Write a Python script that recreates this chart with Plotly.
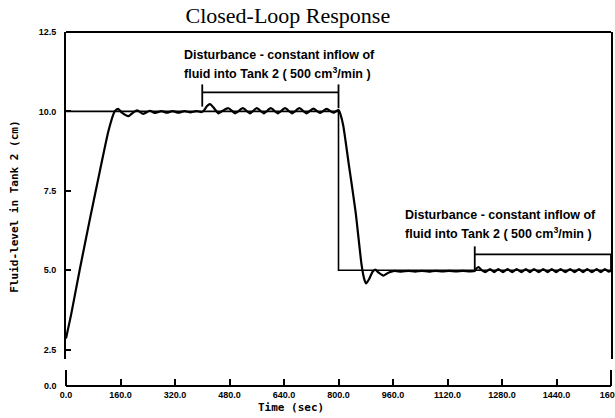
import plotly.graph_objects as go

# time axis ticks (sec)
x_ticks = [0, 160, 320, 480, 640, 800, 960, 1120, 1280, 1440, 1600]
x_tick_labels = ["0.0", "160.0", "320.0", "480.0", "640.0", "800.0",
                 "960.0", "1120.0", "1280.0", "1440.0", "1600."]
y_ticks = [2.5, 5.0, 7.5, 10.0, 12.5]
y_tick_labels = ["2.5", "5.0", "7.5", "10.0", "12.5"]

# setpoint (cm)
setpoint_t = [0, 800, 800, 1600]
setpoint_lvl = [10.0, 10.0, 5.0, 5.0]

resp_t = [0, 15, 40, 70, 100, 125, 143, 153, 165, 183, 198, 209, 227, 246, 262,
          280, 296, 313, 330, 348, 365, 382, 398,
          405, 414, 423, 433, 448, 460, 477, 497, 519, 540, 560, 581, 601, 622,
          643, 664, 685, 706, 726, 746, 765, 785, 800,
          806, 814, 830, 850, 868, 876, 881, 890, 900, 908, 918, 932, 948, 965,
          985, 1005, 1025, 1045, 1065, 1085, 1105, 1125, 1145, 1165, 1185, 1200,
          1205, 1211, 1220, 1231, 1245, 1257, 1269, 1283, 1296, 1310, 1323, 1337,
          1350, 1362, 1374, 1388, 1401, 1414, 1426, 1439, 1452, 1466, 1480, 1493,
          1506, 1518, 1530, 1544, 1558, 1570, 1582, 1594, 1600]
resp_lvl = [2.85, 3.6, 5.0, 6.6, 8.15, 9.4, 10.0, 10.08, 9.95, 9.85, 9.97, 10.03,
            9.92, 10.02, 9.95, 10.01, 9.96, 10.01, 9.96, 10.01, 9.97, 10.01, 9.98,
            10.03, 10.17, 10.23, 10.12, 9.94, 10.02, 10.1, 9.94, 10.1, 9.94, 10.1,
            9.94, 10.1, 9.94, 10.1, 9.94, 10.1, 9.94, 10.09, 9.95, 10.08, 9.96, 10.04,
            9.9, 9.55, 8.35, 6.85, 5.15, 4.7, 4.58, 4.72, 4.95, 5.02, 4.92, 4.83,
            4.93, 4.98, 4.95, 4.98, 4.95, 4.98, 4.95, 4.98, 4.96, 4.98, 4.96, 4.98,
            4.96, 4.97,
            5.05, 5.1, 5.0, 4.94, 5.03, 4.94, 5.03, 4.94, 5.03, 4.94, 5.03, 4.94,
            5.03, 4.94, 5.03, 4.94, 5.03, 4.94, 5.03, 4.94, 5.03, 4.94, 5.03, 4.94,
            5.03, 4.94, 5.03, 4.94, 5.03, 4.94, 5.03, 4.95, 4.98]

# disturbance brackets
bracket1_t = [400, 400, None, 400, 800, None, 800, 800]
bracket1_lvl = [10.85, 10.15, None, 10.6, 10.6, None, 10.85, 10.1]
bracket2_t = [1200, 1200, None, 1200, 1600, 1600]
bracket2_lvl = [5.75, 4.98, None, 5.5, 5.5, 5.0]

note_lines = ["Disturbance - constant inflow of",
              "fluid into Tank 2 ( 500 cm<sup>3</sup>/min )"]
note1_t, note1_lvl = 340, [11.79, 11.22]
note2_t, note2_lvl = 989, [6.75, 6.17]

fig = go.Figure()
fig.add_trace(go.Scatter(x=setpoint_t, y=setpoint_lvl, mode="lines",
                         line=dict(color="black", width=1.6)))
fig.add_trace(go.Scatter(x=resp_t, y=resp_lvl, mode="lines",
                         line=dict(color="black", width=2.2, shape="spline", smoothing=0.6)))
for bt, bl in [(bracket1_t, bracket1_lvl), (bracket2_t, bracket2_lvl)]:
    fig.add_trace(go.Scatter(x=bt, y=bl, mode="lines", connectgaps=False,
                             line=dict(color="black", width=1.8)))

note_font = dict(family="Liberation Sans, Arial", size=12.5, color="black", weight="bold")
for nt, nl in [(note1_t, note1_lvl), (note2_t, note2_lvl)]:
    for txt, lvl in zip(note_lines, nl):
        fig.add_annotation(x=nt, y=lvl, text=txt, showarrow=False,
                           xanchor="left", yanchor="middle", font=note_font)

label_font = dict(family="DejaVu Sans Mono", size=11, color="black", weight="bold")
fig.add_annotation(xref="paper", yref="paper", x=0.413, y=-0.062, text="Time (sec)",
                   showarrow=False, xanchor="center", yanchor="middle", font=label_font)
fig.add_annotation(xref="paper", yref="paper", x=-0.094, y=0.506,
                   text="Fluid-level in Tank 2 (cm)", textangle=-90,
                   showarrow=False, xanchor="center", yanchor="middle", font=label_font)

tick_font = dict(family="Liberation Sans Narrow, Liberation Sans", size=9,
                 color="black", weight="bold")

# frame: top border plus the short stubs below the axis break, and the 0.0 label
frame = dict(color="black", width=2)
fig.add_shape(type="line", xref="paper", yref="paper", x0=0, x1=1, y0=1, y1=1, line=frame)
fig.add_shape(type="line", xref="paper", yref="paper", x0=0, x1=0, y0=0, y1=0.045, line=frame)
fig.add_shape(type="line", xref="paper", yref="paper", x0=1, x1=1, y0=0, y1=0.045, line=frame)
fig.add_annotation(xref="paper", yref="paper", x=-0.012, y=0.0, text="0.0",
                   showarrow=False, xanchor="right", yanchor="middle", font=tick_font)

fig.update_layout(
    width=615, height=418,
    margin=dict(l=66, r=4, t=32, b=32, autoexpand=False),
    paper_bgcolor="white", plot_bgcolor="white",
    showlegend=False,
    title=dict(text="Closed-Loop Response", x=0.468, y=0.964, xanchor="center",
               yanchor="middle",
               font=dict(family="Liberation Serif", size=22, color="black")),
    xaxis=dict(range=[0, 1600], anchor="free", position=0, showline=True,
               linecolor="black", linewidth=2, ticks="inside", ticklen=6,
               tickwidth=1.5, tickcolor="black", tickvals=x_ticks,
               ticktext=x_tick_labels, tickfont=tick_font, automargin=False,
               ticklabeloverflow="allow", showgrid=False, zeroline=False),
    yaxis=dict(domain=[0.076, 1], range=[2.2, 12.5], anchor="x", showline=True,
               mirror=True, linecolor="black", linewidth=2, ticks="inside",
               ticklen=5, tickwidth=1.5, tickcolor="black", tickvals=y_ticks,
               ticktext=y_tick_labels, tickfont=tick_font, ticklabelstandoff=6,
               automargin=False, showgrid=False, zeroline=False),
)

fig.write_html("out.html", config={"displayModeBar": False},
               post_script="document.body.style.margin='0';")
